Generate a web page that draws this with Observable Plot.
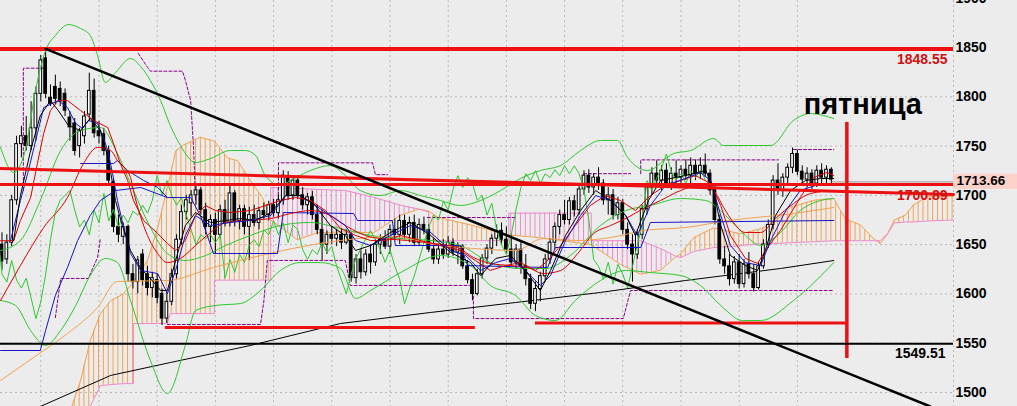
<!DOCTYPE html>
<html><head><meta charset="utf-8">
<script src="https://cdn.jsdelivr.net/npm/d3@7"></script>
<script src="https://cdn.jsdelivr.net/npm/@observablehq/plot@0.6"></script>
<style>
html,body{margin:0;padding:0;background:#ececec;overflow:hidden;}
#chart svg{display:block}
</style></head><body><div id="chart"></div>
<script>
// ---- candles (bar index = position in arrays) ----
const opens =[1650,1635,1652,1695,1752,1760,1750,1768,1803,1839,1799,1810,1808,1803,1779,1773,1750,1760,1782,1806,1765,1762,1745,1713,1668,1658,1668,1620,1612,1640,1620,1606,1614,1600,1575,1592,1620,1655,1683,1692,1700,1705,1685,1668,1675,1660,1685,1672,1702,1674,1686,1668,1680,1672,1684,1680,1690,1682,1695,1718,1700,1715,1700,1690,1698,1680,1665,1650,1660,1656,1660,1652,1660,1616,1635,1622,1640,1632,1650,1655,1648,1665,1660,1674,1660,1672,1652,1670,1665,1645,1635,1645,1640,1652,1642,1648,1628,1614,1600,1620,1636,1646,1656,1664,1655,1645,1632,1645,1628,1615,1590,1605,1618,1635,1652,1668,1680,1675,1694,1685,1706,1720,1708,1718,1712,1695,1700,1680,1692,1665,1650,1640,1660,1686,1708,1722,1715,1725,1712,1722,1718,1726,1720,1730,1722,1730,1722,1705,1675,1635,1628,1615,1632,1610,1630,1620,1606,1628,1650,1670,1715,1705,1718,1728,1742,1724,1716,1722,1712,1725,1718,1726];
const highs =[1662,1660,1700,1760,1770,1780,1795,1810,1842,1849,1812,1822,1815,1808,1785,1778,1768,1785,1824,1818,1775,1768,1750,1716,1680,1672,1670,1630,1638,1645,1628,1622,1620,1605,1602,1625,1660,1690,1700,1705,1712,1708,1692,1680,1682,1690,1695,1712,1705,1690,1690,1688,1690,1688,1692,1694,1696,1700,1725,1724,1718,1720,1708,1702,1704,1690,1685,1664,1668,1665,1666,1665,1662,1640,1645,1645,1650,1655,1660,1664,1670,1676,1680,1680,1678,1680,1676,1678,1670,1656,1650,1655,1658,1656,1652,1650,1634,1620,1625,1640,1650,1660,1670,1672,1668,1660,1650,1652,1640,1620,1612,1622,1640,1656,1672,1685,1695,1698,1700,1712,1725,1726,1722,1728,1716,1708,1706,1698,1696,1672,1660,1665,1690,1712,1728,1735,1730,1732,1728,1735,1730,1736,1738,1736,1738,1742,1726,1710,1680,1648,1640,1638,1640,1635,1642,1630,1632,1655,1675,1720,1732,1722,1732,1748,1746,1730,1728,1726,1730,1732,1730,1728];
const lows  =[1624,1630,1648,1690,1738,1745,1745,1755,1795,1798,1790,1792,1790,1780,1755,1740,1738,1752,1775,1758,1752,1740,1712,1662,1652,1650,1612,1605,1600,1608,1598,1596,1590,1568,1570,1588,1615,1650,1675,1678,1690,1680,1660,1652,1640,1656,1668,1668,1668,1665,1660,1634,1668,1665,1675,1674,1678,1676,1690,1695,1695,1696,1685,1680,1675,1660,1634,1640,1650,1648,1645,1650,1612,1610,1615,1618,1620,1628,1640,1645,1640,1655,1650,1655,1652,1648,1648,1660,1642,1630,1630,1635,1636,1638,1630,1625,1610,1593,1598,1615,1630,1640,1648,1650,1640,1628,1625,1620,1608,1584,1582,1592,1612,1630,1645,1660,1670,1670,1678,1680,1700,1702,1700,1705,1690,1680,1675,1675,1660,1645,1612,1635,1655,1680,1700,1712,1705,1708,1705,1712,1708,1715,1712,1715,1716,1718,1700,1670,1630,1620,1608,1610,1605,1606,1615,1602,1604,1625,1646,1665,1700,1698,1712,1722,1720,1710,1708,1706,1708,1712,1710,1712];
const closes=[1633,1652,1695,1752,1760,1750,1768,1803,1837,1803,1793,1798,1795,1786,1769,1745,1765,1780,1806,1763,1760,1745,1715,1668,1660,1668,1620,1612,1634,1614,1606,1616,1596,1575,1592,1620,1655,1683,1695,1700,1705,1685,1668,1675,1660,1685,1672,1702,1674,1686,1668,1680,1672,1684,1680,1690,1682,1695,1720,1700,1715,1700,1690,1698,1680,1665,1650,1660,1656,1660,1652,1660,1616,1635,1622,1640,1632,1650,1655,1648,1665,1660,1674,1660,1672,1652,1670,1665,1645,1635,1645,1640,1652,1642,1648,1628,1614,1600,1620,1636,1646,1656,1664,1655,1645,1632,1645,1628,1615,1590,1605,1618,1635,1652,1668,1680,1675,1694,1685,1706,1720,1708,1718,1712,1695,1700,1680,1692,1665,1650,1640,1660,1686,1708,1722,1715,1725,1712,1722,1718,1726,1720,1730,1722,1730,1722,1705,1675,1635,1628,1615,1632,1610,1630,1620,1606,1628,1650,1670,1715,1705,1718,1728,1742,1724,1716,1722,1712,1725,1718,1726,1716];

// ---- Ichimoku cloud (bar index, senkou A, senkou B) ----
const cloudI  =[14,16.2,18.2,20.3,22.4,25,27.1,27.1,30,32.1,34.1,34.7,35.8,37.4,40.9,43.8,43.8,46.5,48.6,51.9,53.7,55.4,55.4,60.9,65,70.8,76.6,82.2,86,88,88,89.8,96.6,102.8,104.5,104.5,111,121.5,121.5,127.5,131.7,135.8,139,140,142.6,146.7,152.3,156.4,159.1,162.6,167.4,171.5,173.9,177,179.7,180.3,181.1,182.6,184,186.3,187.9,190.8,196.2];
const senkouA =[1480,1512,1553,1580,1593,1600,1612,1612,1634,1667,1708,1720,1745,1751,1759,1755,1755,1738,1735,1710,1698,1675,1675,1655,1662,1663,1662,1680,1686,1684,1684,1678,1670,1662,1660,1660,1657,1650,1650,1630,1620,1624,1638,1641,1657,1667,1661,1666,1672,1688,1695,1697,1676,1670,1656,1654,1651,1661,1675,1680,1690,1699,1699];
const senkouB =[1480,1480,1486,1507,1508,1509,1509,1570,1570,1570,1570,1580,1580,1580,1580,1580,1614,1614,1614,1614,1614,1614,1708,1707,1706,1705,1698,1690,1686,1683,1654,1654,1654,1654,1654,1682,1682,1682,1654,1654,1654,1646,1638,1637,1643,1647,1649,1651,1651,1652,1653,1654,1654,1654,1654,1654,1654,1661,1672,1673,1673,1674,1675];

// ---- indicator lines [bar index, price] ----
const redFast=[[-0.3,1654],[2.4,1654],[3.8,1674.5],[5.9,1697.8],[7.3,1732.3],[8.6,1762.8],[10,1786.1],[11.6,1796.2],[13.5,1796.2],[16.2,1786.1],[18.9,1776],[21.8,1768.8],[23,1752.6],[24.4,1732.3],[25.9,1715.1],[27.1,1694.8],[29.2,1674.5],[32.1,1661.3],[34.1,1651.2],[35.8,1644.1],[37.8,1654.2],[39.9,1679.6],[42,1689.7],[44,1684.6],[47.1,1682.6],[51.2,1684.6],[54.3,1689.7],[57.4,1694.8],[60.5,1697.8],[63.6,1694.8],[66.7,1684.6],[69.8,1666.4],[72.9,1659.3],[76,1654.2],[79.1,1654.2],[82.2,1659.3],[86.3,1654.2],[90.4,1649.1],[94.5,1644.1],[97.6,1633.9],[100.7,1623.8],[103.8,1628.8],[106.9,1631.8],[110,1623.8],[112.1,1631.8],[115.2,1649.1],[118.2,1669.4],[121.3,1689.7],[124.4,1699.8],[127.5,1694.8],[130.6,1684.6],[133.7,1699.8],[136.8,1710],[139.9,1715.1],[143,1720.1],[146.1,1712],[148.2,1689.7],[150.2,1659.3],[153.3,1636],[155.8,1630.9],[157.4,1644.1],[160.5,1664.3],[162.6,1681.6],[164.6,1697.8],[167.3,1718.1],[170.1,1723.2],[171.5,1720.1]];
const redSlow=[[-0.3,1593.3],[3.8,1628.8],[8.6,1667.4],[13.5,1697.8],[16.8,1732.3],[19.7,1748.6],[22.4,1745.5],[23.8,1735.4],[26.5,1718.1],[27.1,1704.9],[30,1659.3],[32.1,1641],[34.1,1631.8],[36.8,1636],[39.9,1649.1],[43,1662.3],[46.1,1672.5],[50.2,1674.5],[55.4,1676.5],[59.5,1681.6],[63.6,1684.6],[67.7,1679.6],[70.8,1669.4],[76.6,1657.2],[83.6,1654.2],[89,1651.2],[93.9,1647.1],[97.2,1637],[100.7,1630.9],[104.8,1628.8],[108.4,1626.8],[111.6,1620.7],[115.2,1623.8],[118.7,1641],[122,1661.3],[125.5,1669.4],[129,1677.5],[132.3,1686.7],[135.8,1694.8],[139.9,1704.9],[144,1710],[146.7,1704.9],[148.8,1687.7],[150.8,1672.5],[153.3,1662.3],[156.4,1662.3],[159.5,1676.5],[163.2,1691.7],[166.7,1701.9],[171.5,1704.9]];
const blueFast=[[1.75,1654.2],[3.8,1694.8],[5.3,1722.2],[7.3,1762.8],[8.6,1789.1],[11.6,1796.2],[13.5,1789.1],[15.2,1772.9],[16.6,1767.8],[17.8,1776],[19.7,1772.9],[20.9,1758.7],[21.8,1745.5],[22.8,1722.2],[23.8,1694.8],[25.1,1667.4],[26.5,1641],[28.6,1623.8],[32.1,1620.7],[34.1,1600.4],[35.8,1623.8],[37.8,1659.3],[39.9,1679.6],[43,1669.4],[47.1,1672.5],[51.2,1674.5],[55.4,1679.6],[58.5,1699.8],[61.5,1699.8],[64.6,1689.7],[67.7,1679.6],[70.8,1669.4],[72.9,1654.2],[76,1649.1],[80.1,1659.3],[84.2,1669.4],[88.4,1662.3],[92.5,1644.1],[95.6,1639],[98.7,1623.8],[101.8,1631.8],[104.8,1636],[107.9,1623.8],[111,1608.6],[113.1,1618.7],[116.2,1654.2],[119.3,1679.6],[122.4,1699.8],[125.5,1694.8],[128.6,1679.6],[131,1659.3],[133.7,1689.7],[136.8,1710],[140.9,1717.1],[144,1723.2],[146.1,1715.1],[148.2,1679.6],[150.2,1649.1],[153.3,1631.8],[156.4,1628.8],[158.5,1654.2],[161.6,1684.6],[164.6,1704.9],[167.7,1710],[171.5,1712]];
const blackFast=[[2.4,1654.2],[3.8,1699.8],[5.9,1745.5],[7.9,1781],[10,1796.2],[11.6,1786.1],[13.7,1770.9],[16.2,1765.8],[18.2,1778],[20.3,1765.8],[22,1735.4],[23.4,1694.8],[24.8,1669.4],[26.5,1644.1],[28.6,1625.8],[30.6,1615.7],[32.7,1603.5],[34.1,1603.5],[35.8,1633.9],[37.8,1669.4],[39.9,1682.6],[43,1672.5],[46.1,1674.5],[49.2,1676.5],[52.3,1674.5],[55.4,1682.6],[58.5,1699.8],[61.5,1699.8],[64.6,1689.7],[67.7,1669.4],[70.8,1659.3],[72.9,1644.1],[76,1649.1],[80.1,1662.3],[84.2,1672.5],[88.4,1659.3],[92.5,1642],[96.6,1631.8],[98.7,1618.7],[101.8,1636],[104.8,1639],[107.9,1623.8],[111,1603.5],[113.1,1623.8],[116.2,1659.3],[119.3,1684.6],[122.4,1704.9],[125.5,1694.8],[128.6,1679.6],[130.6,1659.3],[133.3,1694.8],[135.8,1715.1],[140.9,1720.1],[145.1,1725.2],[146.5,1710],[148.2,1669.4],[150.2,1639],[153.3,1628.8],[155.8,1623.8],[157.4,1644.1],[159.5,1679.6],[162.6,1704.9],[165.7,1715.1],[168.8,1717.1],[171.5,1717.1]];
const orangeSlow=[[-0.3,1512.2],[6.5,1535.5],[13.5,1559.8],[19.7,1586.2],[23.8,1612.6],[34.1,1613.6],[43.6,1626.8],[53.3,1639],[69.8,1654.2],[80.1,1658.3],[90.4,1649.1],[97.2,1646.1],[105.9,1644.1],[111.6,1656.2],[118.7,1654.2],[125.5,1657.2],[132.3,1664.3],[140.9,1667.4],[149.9,1674.5],[163.2,1681.6],[171.5,1687.7]];
const blueSlow=[[-0.3,1542.6],[7.9,1542.6],[9,1563],[11,1598.4],[13.5,1626.8],[15.6,1654.2],[18.2,1679.6],[20.3,1694.8],[23.4,1704.9],[28.6,1708],[34.1,1697.8]];
const kijun=[[16.2,1732.3],[23,1732.3],[23.8,1735.4],[25.9,1725.2],[29.2,1715.1],[32.1,1708],[34.1,1697.8],[38.9,1697.8],[40.9,1679.6],[43.6,1641],[56.8,1641],[58,1682.6],[72.5,1681.6],[73.3,1674.5],[80.5,1674.5],[81.1,1649.1],[94.5,1649.1],[96,1628.8],[112.5,1626.8],[114.1,1647.1],[131.7,1647.1],[133.7,1672.5],[171.5,1674.5]];
const bbUpper=[[-0.3,1748.6],[2.4,1723.2],[4.8,1745.5],[6.9,1806.4],[9,1847],[11,1862.2],[13.7,1873.3],[16.2,1869.3],[18.2,1862.2],[19.7,1841.9],[21.3,1814.5],[23.4,1824.6],[26.5,1838.8],[28.6,1830.7],[30.6,1816.5],[32.7,1796.2],[34.7,1770.9],[36.8,1750.6],[39.9,1733.3],[43,1737.4],[47.1,1745.5],[50.2,1745.5],[52.3,1740.4],[54.3,1720.1],[57.4,1710],[59.5,1715.1],[63.6,1725.2],[67.7,1730.3],[70.8,1720.1],[73.9,1704.9],[78,1699.8],[82.2,1704.9],[86.3,1699.8],[90.4,1694.8],[94.5,1689.7],[98.7,1694.8],[102.8,1704.9],[106.9,1717.1],[111,1725.2],[115.2,1730.3],[119.3,1745.5],[123.4,1755.7],[126.9,1755.7],[129,1738.4],[133.1,1725.2],[138.5,1742.5],[142,1745.5],[146.7,1757.7],[148.8,1750.6],[158.5,1750.6],[163.2,1776],[166.7,1783],[171.5,1778]];
const bbMiddle=[[-0.3,1644.1],[3.8,1654.2],[7.9,1694.8],[12.1,1745.5],[16.2,1765.8],[20.3,1768.8],[23.8,1742.5],[27.1,1704.9],[30.6,1667.4],[34.1,1641],[37.8,1633.9],[42,1639],[46.1,1649.1],[51.2,1659.3],[57.4,1669.4],[63.6,1672.5],[69.8,1666.4],[76,1659.3],[82.2,1656.2],[88.4,1654.2],[94.5,1649.1],[100.7,1631.8],[106.9,1625.8],[112.1,1625.8],[117.2,1639],[123.4,1669.4],[128.6,1684.6],[133.7,1689.7],[139.9,1696.8],[145.1,1694.8],[149.2,1679.6],[153.3,1659.3],[156.4,1649.1],[160.5,1662.3],[164.6,1684.6],[168.8,1694.8],[171.5,1696.8]];
const bbLower=[[-0.3,1593.3],[2.8,1588.3],[5.9,1562.9],[9,1547.7],[12.1,1562.9],[15.2,1588.3],[18.2,1618.7],[21.3,1636],[23.8,1631.8],[26.5,1593.3],[30.6,1532.5],[34.1,1499],[37.8,1547.7],[39.9,1583.2],[44,1588.3],[49.2,1590.3],[53.3,1603.5],[57.4,1623.8],[61.5,1631.8],[65.7,1631.8],[69.8,1625.8],[72.9,1595.4],[76,1603.5],[82.2,1621.7],[90.4,1639],[96.6,1628.8],[100.7,1608.6],[105.9,1598.4],[110,1578.1],[114.1,1573],[118.2,1593.3],[123.4,1613.6],[128.6,1623.8],[133.7,1621.7],[139.9,1618.7],[144,1608.6],[148.2,1588.3],[152.7,1573],[156.4,1573],[163.2,1593.3],[171.5,1631.8]];
const longMA=[[3.8,1476.7],[7.9,1485.8],[22.4,1517.3],[34.7,1530.4],[51.2,1547.7],[69.8,1570],[88.4,1581.2],[105.9,1591.3],[123.4,1601.5],[140.9,1613.6],[160.5,1625.8],[171.5,1633.9]];
const chikouShift=26;
const upperChannel=[[[4.4,1705],[4.4,1829],[8.6,1829]],[[28.1,1844],[30,1830],[30.6,1826],[37.2,1826],[37.8,1817],[38.9,1796],[39.5,1748],[39.9,1694]],[[57,1690],[57,1733],[76.4,1733],[77,1721],[79.5,1721]],[[87.7,1677.5],[105.9,1677.5]],[[119.9,1722],[129.6,1722]],[[131.7,1722],[131.7,1736],[160.1,1736]],[[163.2,1746.5],[171.5,1746.5]]];
const lowerChannel=[[[11,1576],[12.1,1615.7],[17.8,1615.7],[19.7,1637],[20.3,1657]],[[34.1,1569],[53.3,1569],[54,1593],[54.7,1634],[70.8,1634],[71.8,1608.6],[97.2,1608.6],[97.2,1575],[128.1,1575],[129.6,1603.5],[171.5,1603.5]]];

// ---- drawn objects ----
const resistance=1848.55, level2=1711, supportLevel=1549.51, lastPrice=1713.66, trendLabel=1700.89;
const redTrend=[[-0.3,1727.3],[196.2,1700.89]];
const blackTrend=[[9,1848.55],[191.4,1485.8]];
const supports=[{i1:33.7,i2:97.6,p:1565.9},{i1:110,i2:174.2,p:1570.5}];
const fridayBar=174.2, fridayTop=1774, fridayBottom=1534.5;
const yTicks=[1500,1550,1600,1650,1700,1750,1800,1850,1900];
const gridBars=[8,20,32,44,56,68,80,92,104,116,128,140,152,164];
const note={i:165.3,p:1783,t:"пятница"};

// ---- build ----
const bars=closes.map((c,i)=>({i,o:opens[i],h:highs[i],l:lows[i],c}));
const chikou=closes.map((c,i)=>({i:i-chikouShift,p:c})).filter(d=>d.i>=-1);
const pts=cloudI.map((i,k)=>({i,a:senkouA[k],b:senkouB[k]}));
const segs=[];let cur=null;
for(let k=0;k<pts.length-1;k++){const p=pts[k],q=pts[k+1];const up=(p.a+q.a)>=(p.b+q.b);
  if(!cur||cur.up!==up){cur={up,id:segs.length,pts:[p]};segs.push(cur);} cur.pts.push(q);}
const cloudUp=segs.filter(s=>s.up).flatMap(s=>s.pts.map(d=>({...d,seg:s.id})));
const cloudDn=segs.filter(s=>!s.up).flatMap(s=>s.pts.map(d=>({...d,seg:s.id})));
const chan=[...upperChannel,...lowerChannel].flatMap((s,k)=>s.map(d=>({i:d[0],p:d[1],seg:k})));

const W=1017,H=406,R=953;
const xDomain=[-0.309,196.19], yDomain=[1485.8,1897.7];
const X=d=>d[0], Y=d=>d[1];
const grid="#b8b8b8", dash="2,3", font="Liberation Sans, Arial, sans-serif";
const red="#ee1111";

const chart=Plot.plot({
  width:W,height:H,marginLeft:0,marginRight:W-R,marginTop:0,marginBottom:0,
  style:{background:"#ececec",fontFamily:font},
  x:{domain:xDomain,axis:null},
  y:{domain:yDomain,axis:null},
  marks:[
    Plot.gridY({ticks:yTicks,stroke:grid,strokeOpacity:1,strokeDasharray:dash}),
    Plot.ruleX(gridBars,{stroke:grid,strokeDasharray:dash}),
    Plot.ruleX([xDomain[1]],{stroke:grid,strokeDasharray:dash}),
    Plot.areaY(cloudUp,{x:"i",y1:"b",y2:"a",z:"seg",fill:"url(#hatchUp)",curve:"linear"}),
    Plot.areaY(cloudDn,{x:"i",y1:"b",y2:"a",z:"seg",fill:"url(#hatchDn)",curve:"linear"}),
    Plot.line(pts,{x:"i",y:"a",stroke:"#f4a050",strokeWidth:1}),
    Plot.line(pts,{x:"i",y:"b",stroke:"#ee88cc",strokeWidth:1}),
    Plot.line(chan,{x:"i",y:"p",z:"seg",stroke:"#8a008a",strokeWidth:1,strokeDasharray:"3,2"}),
    Plot.line(longMA,{x:X,y:Y,stroke:"#000",strokeWidth:1}),
    Plot.ruleX(bars,{x:"i",y1:"l",y2:"h",stroke:"#000",strokeWidth:1}),
    Plot.rect(bars.filter(d=>d.c>=d.o),{x1:d=>d.i-0.28,x2:d=>d.i+0.28,y1:"o",y2:"c",fill:"#fff",stroke:"#000",strokeWidth:1}),
    Plot.rect(bars.filter(d=>d.c<d.o),{x1:d=>d.i-0.28,x2:d=>d.i+0.28,y1:"o",y2:"c",fill:"#000",stroke:"#000",strokeWidth:1}),
    Plot.line(chikou,{x:"i",y:"p",stroke:"#2ec82e",strokeWidth:1}),
    Plot.line(bbUpper,{x:X,y:Y,stroke:"#2ec82e",strokeWidth:1,curve:"monotone-x"}),
    Plot.line(bbMiddle,{x:X,y:Y,stroke:"#2ec82e",strokeWidth:1,curve:"monotone-x"}),
    Plot.line(bbLower,{x:X,y:Y,stroke:"#2ec82e",strokeWidth:1,curve:"monotone-x"}),
    Plot.line(orangeSlow,{x:X,y:Y,stroke:"#f4a050",strokeWidth:1,curve:"monotone-x"}),
    Plot.line(blueSlow,{x:X,y:Y,stroke:"#1414c8",strokeWidth:1}),
    Plot.line(kijun,{x:X,y:Y,stroke:"#1414c8",strokeWidth:1}),
    Plot.line(redSlow,{x:X,y:Y,stroke:"#dd0000",strokeWidth:1,curve:"monotone-x"}),
    Plot.line(redFast,{x:X,y:Y,stroke:"#dd0000",strokeWidth:1}),
    Plot.line(blueFast,{x:X,y:Y,stroke:"#1414c8",strokeWidth:1}),
    Plot.line(blackFast,{x:X,y:Y,stroke:"#000",strokeWidth:1}),
    // drawn objects
    Plot.ruleY([lastPrice],{x1:171.2,x2:xDomain[1],stroke:"#999",strokeWidth:1}),
    Plot.ruleY([resistance],{stroke:red,strokeWidth:4}),
    Plot.ruleY([level2],{stroke:red,strokeWidth:3}),
    Plot.line(redTrend,{x:X,y:Y,stroke:red,strokeWidth:3}),
    Plot.ruleY(supports,{x1:"i1",x2:"i2",y:"p",stroke:red,strokeWidth:3}),
    Plot.ruleX([fridayBar],{y1:fridayBottom,y2:fridayTop,stroke:red,strokeWidth:3.5}),
    Plot.ruleY([supportLevel],{stroke:"#000",strokeWidth:2}),
    Plot.line(blackTrend,{x:X,y:Y,stroke:"#000",strokeWidth:2.5}),
    Plot.text([resistance],{x:xDomain[1],y:d=>d,text:d=>d.toFixed(2),textAnchor:"end",dx:-6,dy:11,fill:"#d01010",fontSize:14,fontWeight:"bold"}),
    Plot.text([trendLabel],{x:xDomain[1],y:d=>d,text:d=>d.toFixed(2),textAnchor:"end",dx:-6,dy:1,fill:"#d01010",fontSize:14,fontWeight:"bold"}),
    Plot.text([supportLevel],{x:xDomain[1],y:d=>d,text:d=>d.toFixed(2),textAnchor:"end",dx:-8,dy:10,fill:"#000",fontSize:14,fontWeight:"bold"}),
    Plot.text([note],{x:"i",y:"p",text:"t",textAnchor:"start",lineAnchor:"bottom",fontSize:29,fontWeight:"bold",fill:"#000"}),
    Plot.axisY({anchor:"right",ticks:yTicks,tickSize:0,tickPadding:2,tickFormat:d=>String(d),fontSize:14,fontWeight:"bold",fill:"#000"}),
    Plot.rect([lastPrice],{x1:()=>xDomain[1],x2:()=>xDomain[1]+64/4.85,y1:d=>d-7.6,y2:d=>d+7.8,fill:"#fdd3c9"}),
    Plot.text([lastPrice],{x:xDomain[1],y:d=>d,text:d=>d.toFixed(2),textAnchor:"start",dx:3,dy:-1,fill:"#000",fontSize:13.5,fontWeight:"bold"})
  ]
});
// hatch patterns for the cloud, aligned to bars
const ns="http://www.w3.org/2000/svg";
const sx=chart.scale("x");
const bw=sx.apply(1)-sx.apply(0), x0=sx.apply(0);
const defs=document.createElementNS(ns,"defs");
[["hatchUp","#f4a050"],["hatchDn","#ee88cc"]].forEach(([id,c])=>{
  const p=document.createElementNS(ns,"pattern");
  p.setAttribute("id",id);p.setAttribute("patternUnits","userSpaceOnUse");
  p.setAttribute("width",bw);p.setAttribute("height",10);p.setAttribute("x",x0-0.5);p.setAttribute("y",0);
  const l=document.createElementNS(ns,"line");
  l.setAttribute("x1",0.5);l.setAttribute("x2",0.5);l.setAttribute("y1",0);l.setAttribute("y2",10);
  l.setAttribute("stroke",c);l.setAttribute("stroke-width",1);
  p.appendChild(l);defs.appendChild(p);
});
chart.insertBefore(defs,chart.firstChild);
document.getElementById("chart").appendChild(chart);
</script></body></html>
